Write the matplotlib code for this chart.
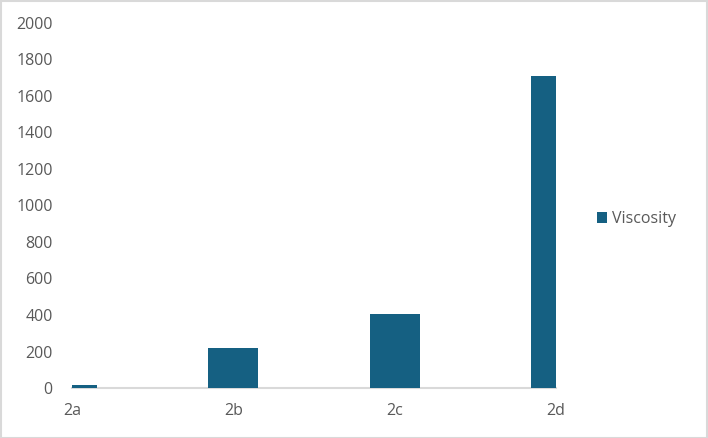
import matplotlib.pyplot as plt
import numpy as np
from matplotlib.patches import Rectangle

categories = ["2a", "2b", "2c", "2d"]
viscosity = [15, 220, 407, 1712]
y_ticks = [0, 200, 400, 600, 800, 1000, 1200, 1400, 1600, 1800, 2000]

plt.rcParams["font.family"] = ["Open Sans", "DejaVu Sans"]
text_color = "#595959"
bar_color = "#156082"

fig = plt.figure(figsize=(7.08, 4.38), dpi=100)
ax = fig.add_axes([72 / 708, 1 - 388 / 438, 484 / 708, 365 / 438])

x = np.arange(len(categories))
ax.bar(x, viscosity, width=0.31, color=bar_color, label="Viscosity", zorder=2)

ax.set_xlim(0, len(categories) - 1)
ax.set_ylim(0, 2000)
ax.set_xticks(x)
ax.set_xticklabels(categories)
ax.set_yticks(y_ticks)
ax.tick_params(axis="both", length=0, labelsize=11.5, colors=text_color)
ax.tick_params(axis="y", pad=14)
ax.tick_params(axis="x", pad=11)

for s in ["top", "right", "left"]:
    ax.spines[s].set_visible(False)
ax.spines["bottom"].set_color("#d9d9d9")
ax.spines["bottom"].set_linewidth(1.5)
ax.spines["bottom"].set_zorder(1)

leg = ax.legend(loc="center left", bbox_to_anchor=(597 / 708, 1 - 219 / 438),
                bbox_transform=fig.transFigure, frameon=False, fontsize=11.5,
                handlelength=0.65, handleheight=0.65, handletextpad=0.3,
                borderaxespad=0, borderpad=0)
for t in leg.get_texts():
    t.set_color(text_color)

# chart border
fig.patches.append(Rectangle((0.5 / 708, 0.5 / 438), 1 - 1.5 / 708, 1 - 1.5 / 438,
                             transform=fig.transFigure, fill=False,
                             edgecolor="#d9d9d9", linewidth=1.5))

fig.savefig("out.png", dpi=100)
